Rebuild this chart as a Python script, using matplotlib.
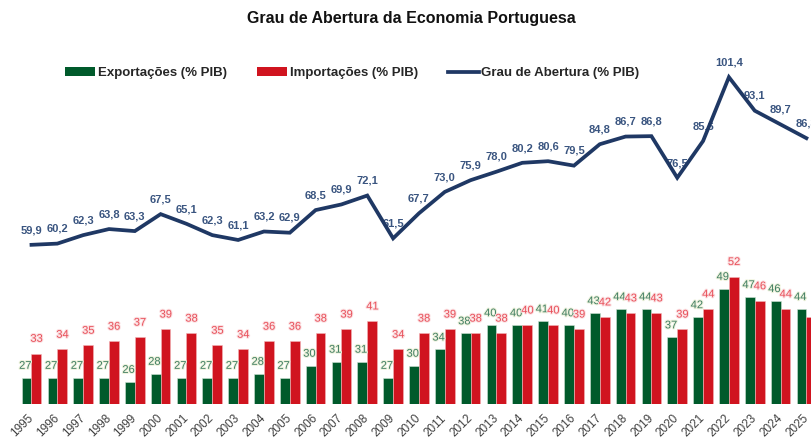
import matplotlib
matplotlib.use("Agg")
import matplotlib.pyplot as plt
import matplotlib.patheffects as pe
from matplotlib.patches import Patch
from matplotlib.lines import Line2D
import numpy as np

plt.rcParams["font.family"] = ["Liberation Sans", "DejaVu Sans"]

YEARS = list(range(1995, 2026))
EXPORTS = [27, 27, 27, 27, 26, 28, 27, 27, 27, 28, 27, 30, 31, 31, 27, 30,
           34, 38, 40, 40, 41, 40, 43, 44, 44, 37, 42, 49, 47, 46, 44]
IMPORTS = [33, 34, 35, 36, 37, 39, 38, 35, 34, 36, 36, 38, 39, 41, 34, 38,
           39, 38, 38, 40, 40, 39, 42, 43, 43, 39, 44, 52, 46, 44, 42]
OPENNESS = [59.9, 60.2, 62.3, 63.8, 63.3, 67.5, 65.1, 62.3, 61.1, 63.2, 62.9,
            68.5, 69.9, 72.1, 61.5, 67.7, 73.0, 75.9, 78.0, 80.2, 80.6, 79.5,
            84.8, 86.7, 86.8, 76.5, 85.6, 101.4, 93.1, 89.7, 86.3]

GREEN = "#005a2b"
RED = "#d0141f"
NAVY = "#1f3864"
GREEN_TXT = "#3f7d62"
RED_TXT = "#e8505a"
NAVY_TXT = "#3a5580"

W, H = 811, 441
BASE = 20.5

fig = plt.figure(figsize=(W / 100, H / 100), dpi=100)
# axes spans the full width; bottom at y=404px, top at y=40px
ax = fig.add_axes([0, 1 - 404 / H, 1, 364 / H])

x = np.arange(len(YEARS))
bw = 0.38
ax.bar(x - 0.19, np.array(EXPORTS) - BASE, bw, bottom=BASE, color=GREEN,
       edgecolor="#cfe3d6", linewidth=0.4, zorder=2)
ax.bar(x + 0.19, np.array(IMPORTS) - BASE, bw, bottom=BASE, color=RED,
       edgecolor="#f3b5b8", linewidth=0.4, zorder=2)
ax.plot(x, OPENNESS, color=NAVY, lw=2.7, zorder=4, solid_joinstyle="miter")

halo_g = [pe.withStroke(linewidth=1.5, foreground="#eef2dc")]
halo_r = [pe.withStroke(linewidth=1.5, foreground="#fbe0e2")]
for i in range(len(YEARS)):
    ax.annotate(f"{EXPORTS[i]}", (x[i] - 0.24, EXPORTS[i]), xytext=(0, 5),
                textcoords="offset points", ha="center", va="bottom",
                fontsize=8, color=GREEN_TXT, path_effects=halo_g, zorder=3)
    ax.annotate(f"{IMPORTS[i]}", (x[i] + 0.2, IMPORTS[i]), xytext=(0, 7),
                textcoords="offset points", ha="center", va="bottom",
                fontsize=8, color=RED_TXT, path_effects=halo_r, zorder=3)
    ax.annotate(f"{OPENNESS[i]:.1f}".replace(".", ","), (x[i], OPENNESS[i]),
                xytext=(0, 7), textcoords="offset points", ha="center",
                va="bottom", fontsize=8, fontweight="bold", color=NAVY_TXT,
                zorder=3)

px = 25.83
ax.set_xlim(-31.5 / px, (W - 31.5) / px)
ax.set_ylim(BASE, BASE + 364 / 4.04)
ax.set_xticks(x)
ax.set_xticklabels([str(y) for y in YEARS], rotation=45, ha="right",
                   va="center", rotation_mode="anchor", fontsize=8.5,
                   color="#404040")
ax.tick_params(axis="x", length=0, pad=9)
ax.set_yticks([])
for s in ax.spines.values():
    s.set_visible(False)

fig.text(411 / W, 1 - 18 / H, "Grau de Abertura da Economia Portuguesa",
         ha="center", va="center", fontsize=11.5, fontweight="bold",
         color="#111111")

handles = [
    Patch(facecolor=GREEN, label="Exportações (% PIB)"),
    Patch(facecolor=RED, label="Importações (% PIB)"),
    Line2D([0], [0], color=NAVY, lw=2.7, label="Grau de Abertura (% PIB)"),
]
leg = fig.legend(handles=handles, loc="center", ncol=3,
                 bbox_to_anchor=(352 / W, 1 - 73 / H), frameon=False,
                 prop={"size": 9.5, "weight": "bold"}, handlelength=2.3,
                 handleheight=0.6, handletextpad=0.2, columnspacing=2.3)
for t in leg.get_texts():
    t.set_color("#262626")

fig.savefig("out.png", dpi=100)
